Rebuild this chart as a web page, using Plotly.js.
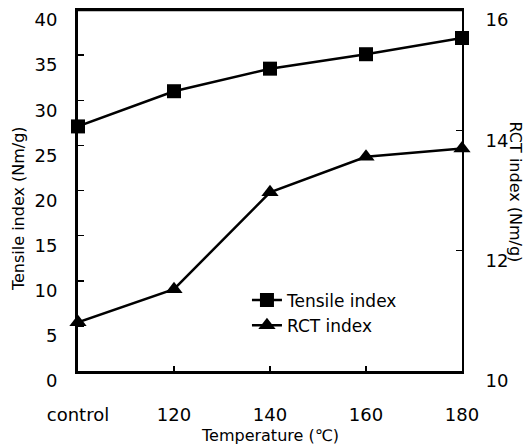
<!DOCTYPE html>
<html><head><meta charset="utf-8">
<script src="https://cdn.plot.ly/plotly-3.0.1.min.js"></script>
<style>html,body{margin:0;padding:0;background:#fff}</style>
</head><body>
<div id="chart" style="width:529px;height:448px"></div>
<script>
const categories = ["control", "120", "140", "160", "180"];
const tensileIndex = [27.1, 31.0, 33.5, 35.1, 36.9];
const rctIndex = [10.81, 11.36, 12.97, 13.56, 13.70];
const leftTicks = [0, 5, 10, 15, 20, 25, 30, 35, 40];
const rightTicks = [10, 12, 14, 16];

const xpos = categories.map((c, i) => i);
const font = {family: "DejaVu Sans, Liberation Sans, Arial, sans-serif", color: "#000"};

const traces = [
  {x: xpos, y: tensileIndex, name: "Tensile index", type: "scatter", mode: "lines+markers",
   line: {color: "#000", width: 2.5}, marker: {symbol: "square", size: 14, color: "#000"},
   cliponaxis: false, yaxis: "y"},
  {x: xpos, y: rctIndex, name: "RCT index", type: "scatter", mode: "lines+markers",
   line: {color: "#000", width: 2.5}, marker: {symbol: "triangle-up", size: 15, color: "#000"},
   cliponaxis: false, yaxis: "y2"}
];

const layout = {
  width: 529, height: 448,
  margin: {l: 78, r: 67, t: 10, b: 77},
  paper_bgcolor: "#fff", plot_bgcolor: "#fff",
  font: Object.assign({size: 17}, font),
  showlegend: true,
  legend: {x: 0.44, y: 0.245, xanchor: "left", yanchor: "top", bgcolor: "rgba(0,0,0,0)",
           font: Object.assign({size: 17}, font), tracegroupgap: 0, itemwidth: 30},
  xaxis: {range: [0, 4], tickvals: xpos, ticktext: categories, showgrid: false, zeroline: false,
          showline: true, linecolor: "#000", linewidth: 2.5, mirror: true,
          ticks: "inside", ticklen: 5, tickwidth: 1.5, tickcolor: "#000",
          ticklabelstandoff: 26, tickfont: Object.assign({size: 18}, font)},
  yaxis: {range: [0, 40], tickvals: leftTicks, showgrid: false, zeroline: false,
          showline: true, linecolor: "#000", linewidth: 3,
          ticks: "inside", ticklen: 6, tickwidth: 1.5, tickcolor: "#000",
          ticklabelstandoff: 14, ticklabelshift: 10, tickfont: Object.assign({size: 18}, font)},
  yaxis2: {range: [10, 16], tickvals: rightTicks, overlaying: "y", side: "right",
           showgrid: false, zeroline: false, showline: true, linecolor: "#000", linewidth: 2,
           ticks: "inside", ticklen: 6, tickwidth: 1.5, tickcolor: "#000",
           ticklabelstandoff: 18, ticklabelshift: 10, tickfont: Object.assign({size: 18}, font)},
  shapes: [
    {type: "line", xref: "paper", yref: "paper", x0: 0, x1: 1, y0: 1, y1: 1,
     line: {color: "#000", width: 2.5}}
  ],
  annotations: [
    {text: "Temperature (℃)", xref: "paper", yref: "paper", x: 0.5, y: -0.178, yanchor: "middle",
     showarrow: false, borderpad: 0, font: Object.assign({size: 16}, font)},
    {text: "Tensile index (Nm/g)", xref: "paper", yref: "paper", x: -0.155, y: 0.45,
     xanchor: "center", yanchor: "middle", textangle: -90, showarrow: false, borderpad: 0,
     font: Object.assign({size: 16}, font)},
    {text: "RCT index (Nm/g)", xref: "paper", yref: "paper", x: 1.14, y: 0.495,
     xanchor: "center", yanchor: "middle", textangle: 90, showarrow: false, borderpad: 0,
     font: Object.assign({size: 16}, font)}
  ]
};

Plotly.newPlot("chart", traces, layout, {displayModeBar: false, staticPlot: true});
</script>
</body></html>
